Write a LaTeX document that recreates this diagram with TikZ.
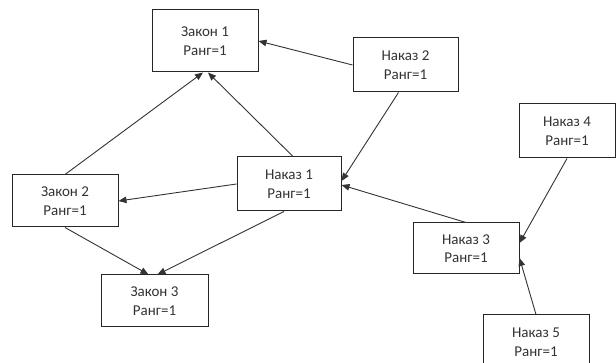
\documentclass[tikz,border=0pt]{standalone}
\usepackage{fontspec}
\setmainfont{Carlito}
\usetikzlibrary{arrows.meta,calc}
\begin{document}
\begin{tikzpicture}[x=1pt,y=-1pt,
  box/.style={draw=black!85,line width=1pt,rectangle,inner sep=0pt,align=center,
    font=\fontsize{15}{18.5}\selectfont,text=black!80},
  link/.style={draw=black!80,line width=0.9pt,-{Triangle[length=8pt,width=6.5pt]}}]
\useasboundingbox (0,0) rectangle (616,363);
\clip (0,0) rectangle (616,363);
\fill[white] (0,0) rectangle (616,363);
\node[box,minimum width=106pt,minimum height=62pt] (z1) at (205,41) {Закон 1\\Ранг=1};
\node[box,minimum width=105pt,minimum height=54pt] (n2) at (405.5,65) {Наказ 2\\Ранг=1};
\node[box,minimum width=106pt,minimum height=52pt] (z2) at (65,201) {Закон 2\\Ранг=1};
\node[box,minimum width=104pt,minimum height=54pt] (n1) at (289,184) {Наказ 1\\Ранг=1};
\node[box,minimum width=106pt,minimum height=51pt] (n3) at (466,248.5) {Наказ 3\\Ранг=1};
\node[box,minimum width=96pt,minimum height=54pt] (n4) at (567,131) {Наказ 4\\Ранг=1};
\node[box,minimum width=107pt,minimum height=52pt] (z3) at (154.5,301) {Закон 3\\Ранг=1};
\node[box,minimum width=106pt,minimum height=54pt] (n5) at (536,342) {Наказ 5\\Ранг=1};
\draw[link] (n2.west) -- (z1.east);
\draw[link] ($(n2.south)+(-7,0)$) -- ($(n1.east)+(0,-3)$);
\draw[link] (n3.north) -- ($(n1.east)+(0,1)$);
\draw[link] ($(n1.north)+(4,0)$) -- ($(z1.south)+(3,0)$);
\draw[link] (z2.north) -- ($(z1.south)+(-2,0)$);
\draw[link] (n1.west) -- (z2.east);
\draw[link] (z2.south) -- ($(z3.north)+(-6,0)$);
\draw[link] ($(n1.south)+(-5,0)$) -- ($(z3.north)+(3,0)$);
\draw[link] (n4.south) -- ($(n3.east)+(0,-5.5)$);
\draw[link] (n5.north) -- ($(n3.east)+(0,9.5)$);
\end{tikzpicture}
\end{document}
